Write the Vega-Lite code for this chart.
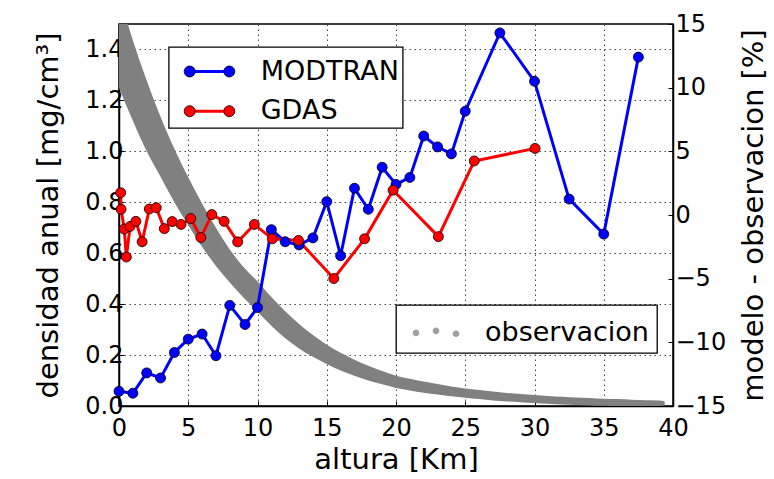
{
  "$schema": "https://vega.github.io/schema/vega-lite/v6.json",
  "width": 554,
  "height": 382,
  "autosize": {"type": "none"},
  "padding": {"left": 119, "top": 24, "right": 101, "bottom": 73},
  "background": "white",
  "config": {
    "font": "DejaVu Sans",
    "view": {"stroke": "black", "strokeWidth": 1.5},
    "axis": {
      "domainColor": "black",
      "domainWidth": 1.5,
      "tickColor": "black",
      "tickSize": -5,
      "tickWidth": 1,
      "labelFont": "DejaVu Sans",
      "labelFontSize": 24,
      "labelColor": "black",
      "labelFlush": false,
      "labelOverlap": false,
      "titleFont": "DejaVu Sans",
      "titleFontSize": 29,
      "titleFontWeight": "normal",
      "titleColor": "black",
      "gridColor": "#444444",
      "gridDash": [1.5, 3.5],
      "gridWidth": 1,
      "gridOpacity": 1
    },
    "legend": {
      "labelFont": "DejaVu Sans",
      "labelFontSize": 27,
      "labelColor": "black",
      "labelLimit": 400,
      "strokeWidth": 1.3
    }
  },
  "datasets": {
    "observacion": [
      {"altura": 0, "lo": 1.25, "hi": 1.617, "fuente": "observacion"},
      {"altura": 1, "lo": 1.12, "hi": 1.436, "fuente": "observacion"},
      {"altura": 2, "lo": 1.0, "hi": 1.278, "fuente": "observacion"},
      {"altura": 3, "lo": 0.9, "hi": 1.136, "fuente": "observacion"},
      {"altura": 4, "lo": 0.8, "hi": 1.01, "fuente": "observacion"},
      {"altura": 5, "lo": 0.71, "hi": 0.898, "fuente": "observacion"},
      {"altura": 6, "lo": 0.625, "hi": 0.795, "fuente": "observacion"},
      {"altura": 7, "lo": 0.55, "hi": 0.7, "fuente": "observacion"},
      {"altura": 8, "lo": 0.485, "hi": 0.615, "fuente": "observacion"},
      {"altura": 9, "lo": 0.425, "hi": 0.545, "fuente": "observacion"},
      {"altura": 10, "lo": 0.37, "hi": 0.49, "fuente": "observacion"},
      {"altura": 11, "lo": 0.315, "hi": 0.428, "fuente": "observacion"},
      {"altura": 12, "lo": 0.266, "hi": 0.372, "fuente": "observacion"},
      {"altura": 13, "lo": 0.226, "hi": 0.322, "fuente": "observacion"},
      {"altura": 14, "lo": 0.193, "hi": 0.279, "fuente": "observacion"},
      {"altura": 15, "lo": 0.165, "hi": 0.241, "fuente": "observacion"},
      {"altura": 16, "lo": 0.139, "hi": 0.209, "fuente": "observacion"},
      {"altura": 17, "lo": 0.119, "hi": 0.182, "fuente": "observacion"},
      {"altura": 18, "lo": 0.1, "hi": 0.158, "fuente": "observacion"},
      {"altura": 19, "lo": 0.085, "hi": 0.137, "fuente": "observacion"},
      {"altura": 20, "lo": 0.071, "hi": 0.119, "fuente": "observacion"},
      {"altura": 21, "lo": 0.061, "hi": 0.107, "fuente": "observacion"},
      {"altura": 22, "lo": 0.052, "hi": 0.096, "fuente": "observacion"},
      {"altura": 23, "lo": 0.045, "hi": 0.086, "fuente": "observacion"},
      {"altura": 24, "lo": 0.038, "hi": 0.077, "fuente": "observacion"},
      {"altura": 25, "lo": 0.032, "hi": 0.069, "fuente": "observacion"},
      {"altura": 26, "lo": 0.027, "hi": 0.063, "fuente": "observacion"},
      {"altura": 27, "lo": 0.022, "hi": 0.057, "fuente": "observacion"},
      {"altura": 28, "lo": 0.018, "hi": 0.051, "fuente": "observacion"},
      {"altura": 29, "lo": 0.015, "hi": 0.047, "fuente": "observacion"},
      {"altura": 30, "lo": 0.012, "hi": 0.043, "fuente": "observacion"},
      {"altura": 31, "lo": 0.009, "hi": 0.039, "fuente": "observacion"},
      {"altura": 32, "lo": 0.006, "hi": 0.036, "fuente": "observacion"},
      {"altura": 33, "lo": 0.004, "hi": 0.033, "fuente": "observacion"},
      {"altura": 34, "lo": 0.002, "hi": 0.031, "fuente": "observacion"},
      {"altura": 35, "lo": 0.001, "hi": 0.028, "fuente": "observacion"},
      {"altura": 36, "lo": 0.0, "hi": 0.027, "fuente": "observacion"},
      {"altura": 37, "lo": 0.0, "hi": 0.025, "fuente": "observacion"},
      {"altura": 38, "lo": 0.0, "hi": 0.023, "fuente": "observacion"},
      {"altura": 39, "lo": 0.0, "hi": 0.022, "fuente": "observacion"},
      {"altura": 39.4, "lo": 0.002, "hi": 0.018, "fuente": "observacion"}
    ],
    "modelos": [
      {"altura": 0.0, "dif": -13.85, "modelo": "MODTRAN"},
      {"altura": 1.0, "dif": -14.0, "modelo": "MODTRAN"},
      {"altura": 2.0, "dif": -12.4, "modelo": "MODTRAN"},
      {"altura": 3.0, "dif": -12.8, "modelo": "MODTRAN"},
      {"altura": 4.0, "dif": -10.8, "modelo": "MODTRAN"},
      {"altura": 5.0, "dif": -9.75, "modelo": "MODTRAN"},
      {"altura": 6.0, "dif": -9.35, "modelo": "MODTRAN"},
      {"altura": 7.0, "dif": -11.05, "modelo": "MODTRAN"},
      {"altura": 8.0, "dif": -7.1, "modelo": "MODTRAN"},
      {"altura": 9.1, "dif": -8.6, "modelo": "MODTRAN"},
      {"altura": 10.0, "dif": -7.27, "modelo": "MODTRAN"},
      {"altura": 11.0, "dif": -1.15, "modelo": "MODTRAN"},
      {"altura": 12.0, "dif": -2.1, "modelo": "MODTRAN"},
      {"altura": 13.0, "dif": -2.35, "modelo": "MODTRAN"},
      {"altura": 14.0, "dif": -1.8, "modelo": "MODTRAN"},
      {"altura": 15.0, "dif": 1.05, "modelo": "MODTRAN"},
      {"altura": 16.0, "dif": -3.2, "modelo": "MODTRAN"},
      {"altura": 17.0, "dif": 2.1, "modelo": "MODTRAN"},
      {"altura": 18.0, "dif": 0.45, "modelo": "MODTRAN"},
      {"altura": 19.0, "dif": 3.75, "modelo": "MODTRAN"},
      {"altura": 20.0, "dif": 2.4, "modelo": "MODTRAN"},
      {"altura": 21.0, "dif": 2.95, "modelo": "MODTRAN"},
      {"altura": 22.0, "dif": 6.2, "modelo": "MODTRAN"},
      {"altura": 23.0, "dif": 5.35, "modelo": "MODTRAN"},
      {"altura": 24.0, "dif": 4.8, "modelo": "MODTRAN"},
      {"altura": 25.0, "dif": 8.15, "modelo": "MODTRAN"},
      {"altura": 27.5, "dif": 14.3, "modelo": "MODTRAN"},
      {"altura": 30.0, "dif": 10.5, "modelo": "MODTRAN"},
      {"altura": 32.5, "dif": 1.25, "modelo": "MODTRAN"},
      {"altura": 35.0, "dif": -1.5, "modelo": "MODTRAN"},
      {"altura": 37.5, "dif": 12.4, "modelo": "MODTRAN"},
      {"altura": 0.12, "dif": 1.75, "modelo": "GDAS"},
      {"altura": 0.15, "dif": 0.45, "modelo": "GDAS"},
      {"altura": 0.38, "dif": -1.1, "modelo": "GDAS"},
      {"altura": 0.53, "dif": -3.3, "modelo": "GDAS"},
      {"altura": 0.8, "dif": -0.9, "modelo": "GDAS"},
      {"altura": 1.22, "dif": -0.5, "modelo": "GDAS"},
      {"altura": 1.67, "dif": -2.1, "modelo": "GDAS"},
      {"altura": 2.19, "dif": 0.47, "modelo": "GDAS"},
      {"altura": 2.69, "dif": 0.57, "modelo": "GDAS"},
      {"altura": 3.27, "dif": -1.07, "modelo": "GDAS"},
      {"altura": 3.84, "dif": -0.52, "modelo": "GDAS"},
      {"altura": 4.48, "dif": -0.74, "modelo": "GDAS"},
      {"altura": 5.18, "dif": -0.28, "modelo": "GDAS"},
      {"altura": 5.91, "dif": -1.77, "modelo": "GDAS"},
      {"altura": 6.7, "dif": 0.03, "modelo": "GDAS"},
      {"altura": 7.59, "dif": -0.5, "modelo": "GDAS"},
      {"altura": 8.57, "dif": -2.11, "modelo": "GDAS"},
      {"altura": 9.77, "dif": -0.74, "modelo": "GDAS"},
      {"altura": 11.07, "dif": -1.87, "modelo": "GDAS"},
      {"altura": 12.96, "dif": -2.0, "modelo": "GDAS"},
      {"altura": 15.51, "dif": -4.99, "modelo": "GDAS"},
      {"altura": 17.73, "dif": -1.87, "modelo": "GDAS"},
      {"altura": 19.79, "dif": 1.95, "modelo": "GDAS"},
      {"altura": 23.06, "dif": -1.7, "modelo": "GDAS"},
      {"altura": 25.65, "dif": 4.24, "modelo": "GDAS"},
      {"altura": 30.04, "dif": 5.23, "modelo": "GDAS"}
    ]
  },
  "layer": [
    {
      "data": {"name": "observacion"},
      "mark": {"type": "area", "clip": true, "interpolate": "monotone", "opacity": 1},
      "encoding": {
        "x": {
          "field": "altura", "type": "quantitative", "title": "altura [Km]",
          "scale": {"domain": [0, 40], "nice": false, "zero": false},
          "axis": {"values": [0, 5, 10, 15, 20, 25, 30, 35, 40], "grid": true, "labelPadding": 15, "titlePadding": 5}
        },
        "y": {
          "field": "hi", "type": "quantitative", "title": "densidad anual [mg/cm³]",
          "scale": {"domain": [0, 1.5], "nice": false, "zero": false},
          "axis": {"orient": "left", "values": [0, 0.2, 0.4, 0.6, 0.8, 1.0, 1.2, 1.4], "format": ".1f", "grid": true, "labelPadding": 1, "titlePadding": 21}
        },
        "y2": {"field": "lo"},
        "fill": {
          "field": "fuente", "type": "nominal",
          "scale": {"domain": ["observacion"], "range": ["#808080"]},
          "legend": {
            "title": null, "orient": "none", "legendX": 277, "legendY": 281,
            "labelExpr": "datum.label + '\u00a0'",
            "symbolType": "M-1.165,0.02a0.165,0.165 0 1,0 0.33,0a0.165,0.165 0 1,0 -0.33,0ZM-0.165,-0.08a0.165,0.165 0 1,0 0.33,0a0.165,0.165 0 1,0 -0.33,0ZM0.835,0.06a0.165,0.165 0 1,0 0.33,0a0.165,0.165 0 1,0 -0.33,0Z",
            "symbolSize": 1600, "symbolStrokeWidth": 0, "symbolOpacity": 0.75,
            "padding": 7.5, "symbolOffset": 12.5, "labelOffset": 29,
            "fillColor": "white", "strokeColor": "black", "zindex": 1
          }
        }
      }
    },
    {
      "data": {"name": "modelos"},
      "layer": [
        {
          "mark": {"type": "line", "strokeWidth": 3},
          "encoding": {
            "x": {"field": "altura", "type": "quantitative", "title": "altura [Km]", "scale": {"domain": [0, 40], "nice": false, "zero": false}},
            "y": {
              "field": "dif", "type": "quantitative", "title": "modelo - observacion [%]",
              "scale": {"domain": [-15, 15], "nice": false, "zero": false},
              "axis": {"orient": "right", "values": [-15, -10, -5, 0, 5, 10, 15], "format": "d", "grid": false, "labelPadding": 7, "titlePadding": 43, "titleAngle": 270}
            },
            "stroke": {
              "field": "modelo", "type": "nominal",
              "scale": {"domain": ["MODTRAN", "GDAS"], "range": ["#0000ff", "#ff0000"]},
              "legend": {
                "title": null, "orient": "none", "legendX": 49.7, "legendY": 23,
                "labelExpr": "datum.label + '\u00a0'",
                "symbolType": "stroke", "symbolSize": 1568, "symbolStrokeWidth": 3,
                "padding": 3, "symbolOffset": 16.3, "labelOffset": 29.7, "rowPadding": 4.7,
                "fillColor": "white", "strokeColor": "black", "zindex": 1
              }
            }
          }
        },
        {
          "mark": {"type": "point", "filled": true, "size": 100, "stroke": "black", "strokeWidth": 0.8, "opacity": 1},
          "encoding": {
            "x": {"field": "altura", "type": "quantitative", "title": "altura [Km]", "scale": {"domain": [0, 40], "nice": false, "zero": false}},
            "y": {
              "field": "dif", "type": "quantitative", "title": "modelo - observacion [%]",
              "scale": {"domain": [-15, 15], "nice": false, "zero": false},
              "axis": {"orient": "right", "values": [-15, -10, -5, 0, 5, 10, 15], "format": "d", "grid": false, "labelPadding": 7, "titlePadding": 43, "titleAngle": 270}
            },
            "fill": {
              "field": "modelo", "type": "nominal",
              "scale": {"domain": ["MODTRAN", "GDAS"], "range": ["#0000ff", "#ff0000"]},
              "legend": {
                "title": null, "orient": "none", "legendX": 49.7, "legendY": 23,
                "labelExpr": "datum.label + '\u00a0'",
                "symbolType": "M-1.205,0a0.262,0.262 0 1,0 0.524,0a0.262,0.262 0 1,0 -0.524,0ZM0.681,0a0.262,0.262 0 1,0 0.524,0a0.262,0.262 0 1,0 -0.524,0Z",
                "symbolSize": 1764, "symbolStrokeWidth": 0.8, "symbolStrokeColor": "black", "symbolOpacity": 1,
                "padding": 3, "symbolOffset": 16.3, "labelOffset": 29.7, "rowPadding": 4.7,
                "labelOpacity": 0, "zindex": 2
              }
            }
          }
        }
      ]
    }
  ],
  "resolve": {"scale": {"y": "independent", "fill": "independent"}}
}
